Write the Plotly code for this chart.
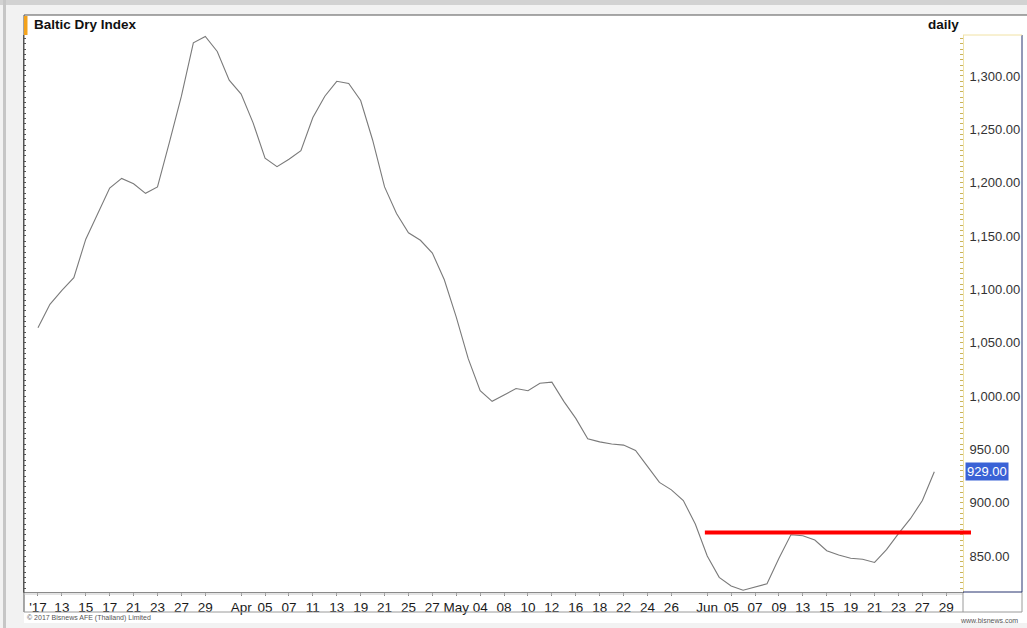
import plotly.graph_objects as go

# ---- data -------------------------------------------------------------
trading_days = [
    "2017-03-09", "2017-03-10", "2017-03-13", "2017-03-14", "2017-03-15", "2017-03-16",
    "2017-03-17", "2017-03-20", "2017-03-21", "2017-03-22", "2017-03-23", "2017-03-24",
    "2017-03-27", "2017-03-28", "2017-03-29", "2017-03-30", "2017-03-31",
    "2017-04-03", "2017-04-04", "2017-04-05", "2017-04-06", "2017-04-07", "2017-04-10",
    "2017-04-11", "2017-04-12", "2017-04-13", "2017-04-18", "2017-04-19", "2017-04-20",
    "2017-04-21", "2017-04-24", "2017-04-25", "2017-04-26", "2017-04-27", "2017-04-28",
    "2017-05-02", "2017-05-03", "2017-05-04", "2017-05-05", "2017-05-08", "2017-05-09",
    "2017-05-10", "2017-05-11", "2017-05-12", "2017-05-15", "2017-05-16", "2017-05-17",
    "2017-05-18", "2017-05-19", "2017-05-22", "2017-05-23", "2017-05-24", "2017-05-25",
    "2017-05-26", "2017-05-30", "2017-05-31",
    "2017-06-01", "2017-06-02", "2017-06-05", "2017-06-06", "2017-06-07", "2017-06-08",
    "2017-06-09", "2017-06-12", "2017-06-13", "2017-06-14", "2017-06-15", "2017-06-16",
    "2017-06-19", "2017-06-20", "2017-06-21", "2017-06-22", "2017-06-23", "2017-06-26",
    "2017-06-27", "2017-06-28", "2017-06-29",
]

bdi_values = [
    1064, 1086, 1099, 1111, 1147, 1171, 1195, 1204, 1199, 1190, 1196, 1238,
    1281, 1331, 1337, 1323, 1296,
    1283, 1256, 1223, 1215, 1222, 1230, 1261, 1281, 1295, 1293, 1277, 1240,
    1196, 1171, 1153, 1146, 1134, 1109,
    1074, 1035, 1005, 995, 1001, 1007, 1005, 1012, 1013, 995, 979, 960,
    957, 955, 954, 949, 934, 919, 912, 902, 880,
    850, 830, 822, 818, 821, 824, 848, 870, 869, 865, 855, 851,
    848, 847, 844, 856, 871, 885, 902, 929,
]

tick_days = [
    "2017-03-09", "2017-03-13", "2017-03-15", "2017-03-17", "2017-03-21", "2017-03-23",
    "2017-03-27", "2017-03-29", "2017-04-03", "2017-04-05", "2017-04-07", "2017-04-11",
    "2017-04-13", "2017-04-19", "2017-04-21", "2017-04-25", "2017-04-27", "2017-05-02",
    "2017-05-04", "2017-05-08", "2017-05-10", "2017-05-12", "2017-05-16", "2017-05-18",
    "2017-05-22", "2017-05-24", "2017-05-26", "2017-06-01", "2017-06-05", "2017-06-07",
    "2017-06-09", "2017-06-13", "2017-06-15", "2017-06-19", "2017-06-21", "2017-06-23",
    "2017-06-27", "2017-06-29",
]
tick_labels = [
    "'17", "13", "15", "17", "21", "23", "27", "29", "Apr", "05", "07", "11",
    "13", "19", "21", "25", "27", "May", "04", "08", "10", "12", "16", "18",
    "22", "24", "26", "Jun", "05", "07", "09", "13", "15", "19", "21", "23",
    "27", "29",
]

resistance_level = 872
resistance_start = "2017-06-01"
last_value = bdi_values[-1]

# ---- geometry helpers (pixel -> paper) ---------------------------------
W, H = 1027, 628
L, R, T, B = 24, 963, 35, 592
pw, ph = R - L, B - T


def xp(px):
    return (px - L) / pw


def yp(py):
    return (B - py) / ph


x_idx = [trading_days.index(d) for d in trading_days[:len(bdi_values)]]
tick_idx = [trading_days.index(d) for d in tick_days]
x_range = [-1.17, 77.4]
y_range = [816.3, 1338.4]

FONT = "Liberation Sans, Arial, sans-serif"

fig = go.Figure()
fig.add_trace(go.Scatter(
    x=x_idx, y=bdi_values, mode="lines",
    line=dict(color="#7a7a7a", width=1.1),
    showlegend=False, hoverinfo="x+y",
))
# invisible trace to hold the left tick axis
fig.add_trace(go.Scatter(
    x=x_idx, y=bdi_values, mode="lines", yaxis="y2",
    line=dict(color="rgba(0,0,0,0)", width=0),
    showlegend=False, hoverinfo="skip",
))

shapes = []


def rect(x0, y0, x1, y1, fill, layer="below"):
    shapes.append(dict(type="rect", xref="paper", yref="paper",
                       x0=xp(x0), x1=xp(x1), y0=yp(y1), y1=yp(y0),
                       fillcolor=fill, line=dict(width=0), layer=layer))


def seg(x0, y0, x1, y1, color, width=1, layer="above"):
    shapes.append(dict(type="line", xref="paper", yref="paper",
                       x0=xp(x0), x1=xp(x1), y0=yp(y0), y1=yp(y1),
                       line=dict(color=color, width=width), layer=layer))


rect(0, 0, W, 5, "#d2d2d2")
rect(3, 0, 6, H, "#c6c6c6")
rect(L, 15, W, 623, "#ffffff")
seg(L, 15, W, 15, "#555555")
seg(L, 15, L, 612, "#555555")
rect(L, 16, L + 3.5, 35, "#f3a21c", layer="above")
seg(L, 594, R, 594, "#c8c8c8")
seg(L, 612, 1022, 612, "#9a9a9a")
seg(R, 592, R, 612, "#9a9a9a")
seg(1022, 592, 1022, 612, "#9a9a9a")
seg(1022, 35, 1022, 592, "#26336e")
seg(R, 592, 1022, 592, "#26336e")
seg(R, 35, 1022, 35, "#f1e2a4")

# resistance line
x0_res = (trading_days.index(resistance_start) - 0.2 - x_range[0]) / (x_range[1] - x_range[0])
shapes.append(dict(type="line", xref="paper", yref="y",
                   x0=x0_res, x1=xp(971), y0=resistance_level, y1=resistance_level,
                   line=dict(color="#ff0000", width=4), layer="above"))

annotations = [
    dict(text="<b>Baltic Dry Index</b>", x=xp(32), y=yp(25), xref="paper", yref="paper",
         xanchor="left", yanchor="middle", showarrow=False,
         font=dict(family=FONT, size=13.5, color="#111111")),
    dict(text="<b>daily</b>", x=xp(961), y=yp(25), xref="paper", yref="paper",
         xanchor="right", yanchor="middle", showarrow=False,
         font=dict(family=FONT, size=13.5, color="#111111")),
    dict(text=f"{last_value:,.2f}", x=xp(965), y=last_value, xref="paper", yref="y",
         xanchor="left", yanchor="middle", showarrow=False, bgcolor="#3a62d6",
         borderpad=1, font=dict(family=FONT, size=13, color="#ffffff")),
    dict(text="© 2017 Bisnews AFE (Thailand) Limited", x=xp(25), y=yp(618),
         xref="paper", yref="paper", xanchor="left", yanchor="middle", showarrow=False,
         font=dict(family=FONT, size=7, color="#555555")),
    dict(text="www.bisnews.com", x=xp(1020), y=yp(620),
         xref="paper", yref="paper", xanchor="right", yanchor="middle", showarrow=False,
         font=dict(family=FONT, size=7, color="#555555")),
]

fig.update_layout(
    width=W, height=H,
    margin=dict(l=L, r=W - R, t=T, b=H - B, autoexpand=False),
    paper_bgcolor="#f2f2f2", plot_bgcolor="#ffffff",
    font=dict(family=FONT, size=13, color="#222222"),
    showlegend=False,
    shapes=shapes, annotations=annotations,
    xaxis=dict(
        range=x_range, showgrid=False, zeroline=False,
        tickmode="array", tickvals=tick_idx, ticktext=tick_labels,
        ticks="outside", ticklen=3, tickcolor="#888888",
        showline=True, linecolor="#8a8a8a", linewidth=1,
        tickfont=dict(family=FONT, size=13.5, color="#1a1a1a"),
        fixedrange=True,
    ),
    yaxis=dict(
        range=y_range, side="right", showgrid=False, zeroline=False,
        dtick=50, tick0=0, tickformat=",.2f",
        ticks="outside", ticklen=3, tickcolor="rgba(0,0,0,0)",
        minor=dict(dtick=5, ticks="inside", ticklen=3, tickcolor="#c9b35c", showgrid=False),
        showline=True, linecolor="#efe2a8", linewidth=1,
        tickfont=dict(family=FONT, size=13, color="#333333"),
        fixedrange=True,
    ),
    yaxis2=dict(
        range=y_range, overlaying="y", side="left", matches="y",
        showgrid=False, zeroline=False, showticklabels=False,
        dtick=5, ticks="inside", ticklen=2, tickcolor="#555555",
        showline=True, linecolor="#555555", linewidth=1,
        fixedrange=True,
    ),
)

fig.write_html(
    "out.html",
    config={"displayModeBar": False},
    post_script="document.body.style.margin='0';document.body.style.overflow='hidden';",
)
